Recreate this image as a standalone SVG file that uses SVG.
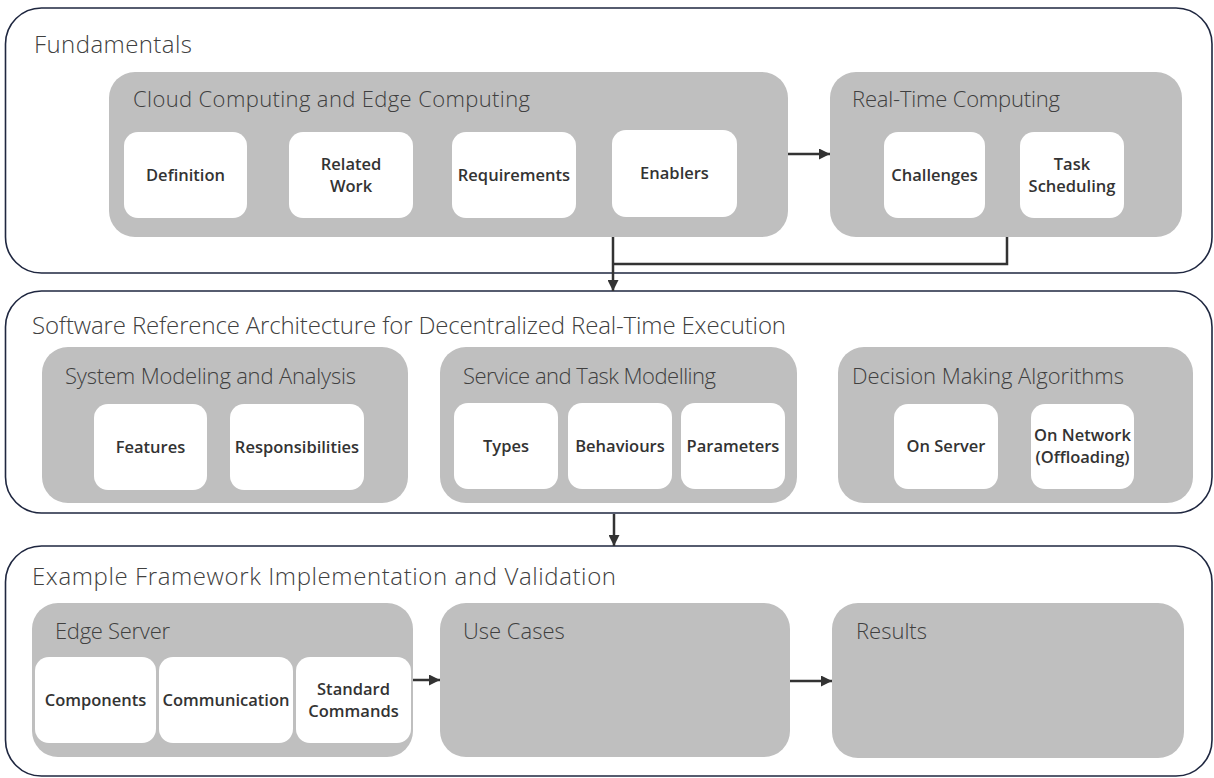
<svg xmlns="http://www.w3.org/2000/svg" width="1214" height="778" viewBox="0 0 1214 778">
  <style>
    .section { fill: #ffffff; stroke: #1f2740; stroke-width: 1.6; }
    .group { fill: #bfbfbf; }
    .item { fill: #ffffff; }
    .h1 { font-family: "Open Sans", "Noto Sans", "Liberation Sans", sans-serif; font-weight: 300; font-size: 24px; fill: #404040; }
    .h2 { font-family: "Open Sans", "Noto Sans", "Liberation Sans", sans-serif; font-weight: 300; font-size: 22px; fill: #404040; }
    .lbl { font-family: "Open Sans", "Noto Sans", "Liberation Sans", sans-serif; font-weight: 600; font-size: 16.5px; fill: #333333; text-anchor: middle; }
    .wire { fill: none; stroke: #333333; stroke-width: 2.5; }
  </style>
  <defs>
    <marker id="arrow" viewBox="0 0 10 10" refX="10" refY="5" markerWidth="4.4" markerHeight="4.4" markerUnits="strokeWidth" orient="auto">
      <path d="M0,0 L10,5 L0,10 z" fill="#333333"/>
    </marker>
  </defs>

  <!-- Section 1: Fundamentals -->
  <g id="fundamentals">
    <rect class="section" x="5.5" y="8" width="1206.5" height="265" rx="36"/>
    <text class="h1" x="34" y="53" textLength="158">Fundamentals</text>
  </g>
  <g id="cloud-edge">
    <rect class="group" x="109" y="72" width="679" height="165" rx="26"/>
    <text class="h2" x="133" y="107" textLength="397">Cloud Computing and Edge Computing</text>
  </g>
  <g id="definition">
    <rect class="item" x="124" y="132" width="123" height="86" rx="14"/>
    <text class="lbl" x="185.5" y="181">Definition</text>
  </g>
  <g id="related-work">
    <rect class="item" x="289" y="132" width="124" height="86" rx="14"/>
    <text class="lbl" x="351" y="170">Related</text>
    <text class="lbl" x="351" y="192">Work</text>
  </g>
  <g id="requirements">
    <rect class="item" x="452" y="132" width="124" height="86" rx="14"/>
    <text class="lbl" x="514" y="181">Requirements</text>
  </g>
  <g id="enablers">
    <rect class="item" x="612" y="130" width="125" height="87" rx="14"/>
    <text class="lbl" x="674.5" y="179">Enablers</text>
  </g>
  <g id="real-time">
    <rect class="group" x="830" y="72" width="352" height="165" rx="26"/>
    <text class="h2" x="852" y="107" textLength="208">Real-Time Computing</text>
  </g>
  <g id="challenges">
    <rect class="item" x="884" y="132" width="101" height="86" rx="14"/>
    <text class="lbl" x="934.5" y="181">Challenges</text>
  </g>
  <g id="task-scheduling">
    <rect class="item" x="1020" y="132" width="104" height="86" rx="14"/>
    <text class="lbl" x="1072" y="170">Task</text>
    <text class="lbl" x="1072" y="192">Scheduling</text>
  </g>

  <!-- Section 2: Reference architecture -->
  <g id="architecture">
    <rect class="section" x="5.5" y="291" width="1206.5" height="222" rx="36"/>
    <text class="h1" x="32" y="334" textLength="754">Software Reference Architecture for Decentralized Real-Time Execution</text>
  </g>
  <g id="system-modeling">
    <rect class="group" x="42" y="347" width="366" height="156" rx="26"/>
    <text class="h2" x="65" y="384" textLength="291">System Modeling and Analysis</text>
  </g>
  <g id="features">
    <rect class="item" x="94" y="404" width="113" height="86" rx="14"/>
    <text class="lbl" x="150.5" y="453">Features</text>
  </g>
  <g id="responsibilities">
    <rect class="item" x="230" y="404" width="134" height="86" rx="14"/>
    <text class="lbl" x="297" y="453">Responsibilities</text>
  </g>
  <g id="service-task">
    <rect class="group" x="440" y="347" width="357" height="156" rx="26"/>
    <text class="h2" x="463" y="384" textLength="253">Service and Task Modelling</text>
  </g>
  <g id="types">
    <rect class="item" x="454" y="403" width="104" height="86" rx="14"/>
    <text class="lbl" x="506" y="452">Types</text>
  </g>
  <g id="behaviours">
    <rect class="item" x="568" y="403" width="104" height="86" rx="14"/>
    <text class="lbl" x="620" y="452">Behaviours</text>
  </g>
  <g id="parameters">
    <rect class="item" x="681" y="403" width="104" height="86" rx="14"/>
    <text class="lbl" x="733" y="452">Parameters</text>
  </g>
  <g id="decision-making">
    <rect class="group" x="838" y="347" width="355" height="156" rx="26"/>
    <text class="h2" x="852" y="384" textLength="272">Decision Making Algorithms</text>
  </g>
  <g id="on-server">
    <rect class="item" x="894" y="404" width="104" height="85" rx="14"/>
    <text class="lbl" x="946" y="452">On Server</text>
  </g>
  <g id="on-network">
    <rect class="item" x="1031" y="404" width="103" height="85" rx="14"/>
    <text class="lbl" x="1082.5" y="441">On Network</text>
    <text class="lbl" x="1082.5" y="463">(Offloading)</text>
  </g>

  <!-- Section 3: Framework implementation -->
  <g id="framework">
    <rect class="section" x="5.5" y="546" width="1206.5" height="230" rx="36"/>
    <text class="h1" x="32" y="585" textLength="584">Example Framework Implementation and Validation</text>
  </g>
  <g id="edge-server">
    <rect class="group" x="32" y="603" width="381" height="154" rx="26"/>
    <text class="h2" x="55" y="639" textLength="115">Edge Server</text>
  </g>
  <g id="components">
    <rect class="item" x="35" y="657" width="121" height="86" rx="14"/>
    <text class="lbl" x="95.5" y="706">Components</text>
  </g>
  <g id="communication">
    <rect class="item" x="159" y="657" width="134" height="86" rx="14"/>
    <text class="lbl" x="226" y="706">Communication</text>
  </g>
  <g id="standard-commands">
    <rect class="item" x="296" y="657" width="115" height="86" rx="14"/>
    <text class="lbl" x="353.5" y="695">Standard</text>
    <text class="lbl" x="353.5" y="717">Commands</text>
  </g>
  <g id="use-cases">
    <rect class="group" x="440" y="603" width="350" height="154" rx="26"/>
    <text class="h2" x="463" y="639">Use Cases</text>
  </g>
  <g id="results">
    <rect class="group" x="832" y="603" width="352" height="155" rx="26"/>
    <text class="h2" x="856" y="639">Results</text>
  </g>

  <!-- Connectors -->
  <g id="connectors">
    <line class="wire" x1="788" y1="154" x2="830" y2="154" marker-end="url(#arrow)"/>
    <polyline class="wire" points="1007,237 1007,264 613,264"/>
    <line class="wire" x1="613" y1="237" x2="613" y2="291" marker-end="url(#arrow)"/>
    <line class="wire" x1="614" y1="514" x2="614" y2="546" marker-end="url(#arrow)"/>
    <line class="wire" x1="413" y1="680" x2="440" y2="680" marker-end="url(#arrow)"/>
    <line class="wire" x1="790" y1="681" x2="832" y2="681" marker-end="url(#arrow)"/>
  </g>
</svg>
